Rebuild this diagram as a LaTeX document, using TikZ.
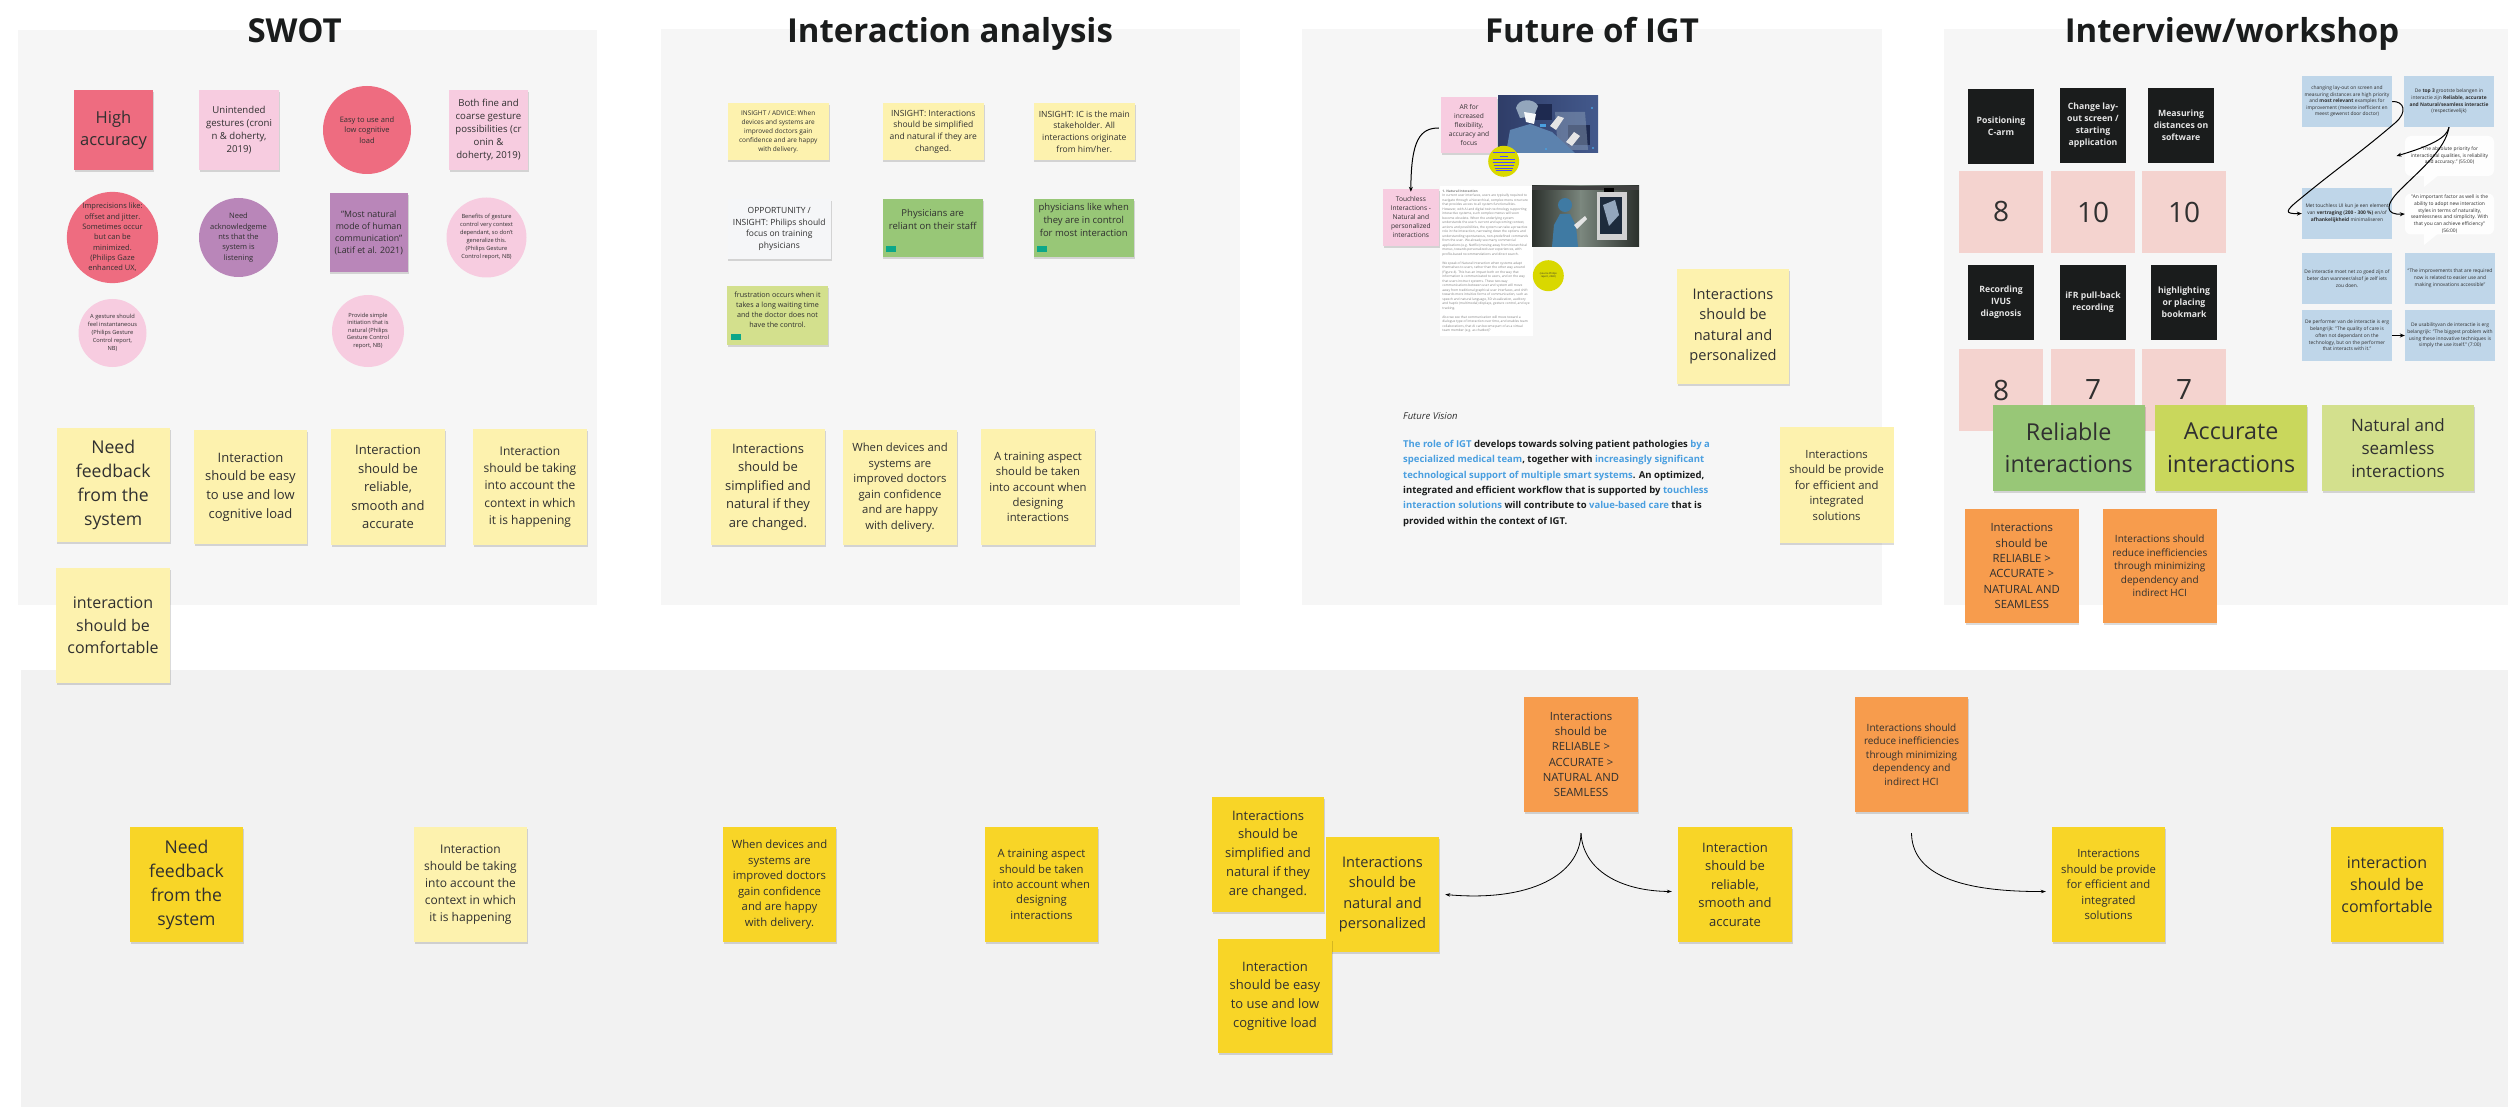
\documentclass[tikz,border=0pt]{standalone}
\usepackage{fontspec}
\setmainfont{Open Sans}
\usetikzlibrary{shadows,arrows.meta}
\definecolor{panelA}{HTML}{F6F6F6}
\definecolor{panelB}{HTML}{F2F2F2}
\definecolor{ylight}{HTML}{FDF2AE}
\definecolor{ystrong}{HTML}{F8D527}
\definecolor{rosered}{HTML}{EE6C80}
\definecolor{rosepale}{HTML}{F7CCE0}
\definecolor{violet}{HTML}{B986B9}
\definecolor{gstrong}{HTML}{98C777}
\definecolor{glime}{HTML}{C9D75C}
\definecolor{gpale}{HTML}{D3E08D}
\definecolor{orangenote}{HTML}{F79C4D}
\definecolor{salmon}{HTML}{F4D3CF}
\definecolor{inkblack}{HTML}{1A1C1C}
\definecolor{bluebox}{HTML}{BFD6E9}
\definecolor{inktext}{HTML}{303030}
\definecolor{linkblue}{HTML}{4A9FE0}
\definecolor{teal}{HTML}{0CA789}
\definecolor{acid}{HTML}{D9D800}
\definecolor{paleslate}{HTML}{F5F6F8}
\definecolor{phA}{HTML}{43598C}
\definecolor{phB}{HTML}{1E2A50}
\definecolor{phC}{HTML}{5C82AE}
\definecolor{phD}{HTML}{93A6BC}
\definecolor{phE}{HTML}{7C887F}
\definecolor{phF}{HTML}{565B55}
\definecolor{phG}{HTML}{3F7AA3}
\definecolor{phH}{HTML}{1D2B3C}
\definecolor{phI}{HTML}{2F3D68}
\definecolor{phJ}{HTML}{2B302C}
\tikzset{
  note/.style={rectangle,inner sep=0pt,align=center,text=inktext,
    drop shadow={shadow xshift=0.8pt,shadow yshift=-2pt,fill=black,opacity=0.14}},
  flat/.style={rectangle,inner sep=0pt,align=center,text=inktext},
  disc/.style={circle,inner sep=0pt,align=center,text=inktext},
  paneltitle/.style={font=\fontsize{33}{38}\selectfont\bfseries,text=inkblack,inner sep=0pt,anchor=base},
  link/.style={draw=black,line width=1pt,-{Stealth[length=5pt,width=4pt]}},
  thinlink/.style={draw=black,line width=0.8pt,-{Stealth[length=5pt,width=3.5pt]}}
}
% name, x0, y0, x1, y1, fill, size, leading, text
\newcommand{\nt}[9]{%
  \pgfmathsetlengthmacro\nw{#4-#2}\pgfmathsetlengthmacro\nh{#5-#3}%
  \node[note,fill=#6,minimum width=\nw,minimum height=\nh,font=\fontsize{#7}{#8}\selectfont]
    (#1) at ({(#2+#4)/2},{(#3+#5)/2}) {#9};}
\newcommand{\fl}[9]{%
  \pgfmathsetlengthmacro\nw{#4-#2}\pgfmathsetlengthmacro\nh{#5-#3}%
  \node[flat,fill=#6,minimum width=\nw,minimum height=\nh,font=\fontsize{#7}{#8}\selectfont]
    (#1) at ({(#2+#4)/2},{(#3+#5)/2}) {#9};}
% name, cx, cy, r, fill, size, leading, text
\newcommand{\el}[8]{%
  \node[disc,fill=#5,minimum size=#4*2pt,font=\fontsize{#6}{#7}\selectfont]
    (#1) at (#2,#3) {#8};}
\newcommand{\bk}[4]{\node[flat,fill=inkblack,text=white!90!black,minimum width=66pt,minimum height=75pt,font=\fontsize{8.7}{12}\selectfont\bfseries] (#1) at (#2,#3) {#4};}
\begin{document}
\begin{tikzpicture}[x=1pt,y=-1pt]
\useasboundingbox (0,0) rectangle (2508,1107);
\fill[white] (0,0) rectangle (2508,1107);
% panels
\fill[panelA] (18,30) rectangle (597,605);
\fill[panelA] (661,29) rectangle (1240,605);
\fill[panelA] (1302,29) rectangle (1882,605);
\fill[panelA] (1944,29) rectangle (2508,605);
\fill[panelB] (21,670) rectangle (2508,1107);
% titles
\node[paneltitle] (t1) at (294.6,43) {SWOT};
\node[paneltitle] (t2) at (950,43) {Interaction analysis};
\node[paneltitle] (t3) at (1592,43) {Future of IGT};
\node[paneltitle] (t4) at (2232,43) {Interview/workshop};
% SWOT
\nt{s1}{74}{90}{153}{170}{rosered}{16.5}{22.5}{High\\accuracy}
\nt{s2}{199}{90}{279}{170}{rosepale}{9.6}{12.8}{Unintended\\gestures (croni\\n \& doherty,\\2019)}
\el{s3}{367}{130}{44}{rosered}{7.5}{10.4}{Easy to use and\\low cognitive\\load}
\nt{s4}{449}{90}{528}{170}{rosepale}{9.6}{13}{Both fine and\\coarse gesture\\possibilities (cr\\onin \&\\doherty, 2019)}
\el{s5}{112.5}{237.5}{43.7}{rosered}{7.5}{10.3}{Imprecisions like:\\offset and jitter.\\Sometimes occur\\but can be\\minimized.\\(Philips Gaze\\enhanced UX,}
\el{s6}{238.5}{237.5}{39.5}{violet}{7.5}{10.3}{Need\\acknowledgeme\\nts that the\\system is\\listening}
\nt{s7}{329.5}{193}{408}{272}{violet}{8.8}{12}{"Most natural\\mode of human\\communication"\\(Latif et al. 2021)}
\el{s8}{486.5}{237.5}{40}{rosepale}{5.7}{8}{Benefits of gesture\\control very context\\dependant, so don't\\generalize this.\\(Philips Gesture\\Control report, NB)}
\el{s9}{112.5}{333}{34}{rosepale}{5.7}{7.9}{A gesture should\\feel instantaneous\\(Philips Gesture\\Control report,\\NB)}
\el{s10}{368}{331}{36}{rosepale}{5.7}{7.5}{Provide simple\\initiation that is\\natural (Philips\\Gesture Control\\report, NB)}
\nt{s11}{56.5}{428}{170}{542}{ylight}{17.6}{24}{Need\\feedback\\from the\\system}
\nt{s12}{194}{430}{307}{544}{ylight}{13}{18.7}{Interaction\\should be easy\\to use and low\\cognitive load}
\nt{s13}{331}{429}{445}{545}{ylight}{13}{18.5}{Interaction\\should be\\reliable,\\smooth and\\accurate}
\nt{s14}{473}{429}{587}{545}{ylight}{12}{17.2}{Interaction\\should be taking\\into account the\\context in which\\it is happening}
\nt{s15}{56}{568}{170}{683}{ylight}{16}{22.3}{interaction\\should be\\comfortable}
% Interaction analysis
\nt{i1}{727.5}{103}{829}{160}{ylight}{6.5}{9}{INSIGHT / ADVICE: When\\devices and systems are\\improved doctors gain\\confidence and are happy\\with delivery.}
\nt{i2}{882.5}{103}{984}{160}{ylight}{8.5}{11.7}{INSIGHT: Interactions\\should be simplified\\and natural if they are\\changed.}
\nt{i3}{1033.5}{103}{1135}{160}{ylight}{8.5}{11.7}{INSIGHT: IC is the main\\stakeholder. All\\interactions originate\\from him/her.}
\nt{i4}{727.5}{199}{831}{259}{paleslate}{8.5}{11.8}{OPPORTUNITY /\\INSIGHT: Philips should\\focus on training\\physicians}
\nt{i5}{882.5}{199}{983}{257}{gstrong}{9.5}{13}{Physicians are\\reliant on their staff\\[5pt]}
\nt{i6}{1033.5}{199}{1134}{257}{gstrong}{9.5}{13}{physicians like when\\they are in control\\for most interaction\\[4pt]}
\nt{i7}{727}{286}{828}{345}{gpale}{7.2}{9.8}{frustration occurs when it\\takes a long waiting time\\and the doctor does not\\have the control.\\[2pt]}
\fill[teal] (886,246) rectangle (895.5,252);
\fill[teal] (1037,246) rectangle (1047,252);
\fill[teal] (731,334) rectangle (740.5,340);
\nt{i8}{711}{429}{825}{545}{ylight}{13}{18.5}{Interactions\\should be\\simplified and\\natural if they\\are changed.}
\nt{i9}{843}{430}{957}{545}{ylight}{11.3}{15.5}{When devices and\\systems are\\improved doctors\\gain confidence\\and are happy\\with delivery.}
\nt{i10}{981}{429}{1095}{545}{ylight}{11.3}{15.4}{A training aspect\\should be taken\\into account when\\designing\\interactions}
% Future of IGT: photo 1
\begin{scope}
\clip (1498,96) rectangle (1598,153);
\shade[left color=phI,right color=phA] (1498,96) rectangle (1598,153);
\fill[phB] (1527,104) rectangle (1552,120);
\fill[phB] (1568,125) rectangle (1590,145);
\fill[phD,opacity=.45] (1555,112) -- (1585,112) -- (1588,150) -- (1558,150) -- cycle;
\fill[phC] (1506,153) -- (1510,130) -- (1530,124) -- (1552,132) -- (1575,153) -- cycle;
\fill[phD] (1516,108) .. controls (1518,98) and (1534,98) .. (1538,106) -- (1534,116) -- (1520,118) -- cycle;
\fill[white!92!phD] (1524,112) -- (1536,114) -- (1534,124) -- (1526,122) -- cycle;
\fill[white!80!gray] (1550,126) -- (1558,116) -- (1564,118) -- (1556,130) -- cycle;
\fill[white!80!gray] (1566,142) -- (1574,132) -- (1580,136) -- (1572,146) -- cycle;
\fill[linkblue] (1540,124) rectangle (1546,127);
\fill[linkblue] (1592,108) circle (1.2pt) (1593,148) circle (1.2pt) (1546,149) circle (1.2pt);
\end{scope}
\nt{f1}{1441}{97}{1497}{153}{rosepale}{6.6}{9}{AR for\\increased\\flexibility,\\accuracy and\\focus}
\node[disc,fill=acid,minimum size=31pt] (f2) at (1503.7,161.3) {};
\foreach \yy/\ww in {152.5/11,156/4,159/11,162.5/11,165/10,168/9,170.5/8}
  \draw[blue!70!white,line width=0.9pt] (1503.7-\ww,\yy) -- (1503.7+\ww,\yy);
\nt{f3}{1383}{189}{1438.7}{245.7}{rosepale}{6.6}{9}{Touchless\\Interactions -\\Natural and\\personalized\\interactions}
\fl{f4}{1440}{186}{1532.7}{336}{white}{3.25}{4.5}{\parbox{88pt}{\raggedright\color{black!50}\textbf{1. Natural Interaction}\\In current user interfaces, users are typically required to navigate through a hierarchical, complex menu structure that provides access to all system functionalities. However, with AI and digital twin technology supporting interactive systems, such complex menus will soon become obsolete. When the underlying system understands the user's current and upcoming context, actions and possibilities, the system can take a proactive role in the interaction, narrowing down the options and understanding spontaneous, non-predefined commands from the user. We already see many commercial applications (e.g. Netflix) moving away from hierarchical menus, towards personalized user experiences, with profile-based recommendations and direct search.\\[4.5pt]We speak of Natural Interaction when systems adapt themselves to users, rather than the other way around (Figure 4). This has an impact both on the way that information is communicated to users, and on the way that users instruct systems. These two-way communications between user and system will move away from traditional graphical user interfaces, and shift towards more intuitive forms of communication, such as speech and natural language, 3D visualization, auditory and haptic (multimodal) displays, gesture control, and eye tracking.\\[4.5pt]Also we see that communication will move toward a dialogue type of interaction over time, and enables team collaborations, that AI can become part of as a virtual team member (e.g. as chatbot)?}}
% photo 2
\begin{scope}
\clip (1532,186) rectangle (1639,247);
\shade[left color=phJ,right color=phE] (1532,186) rectangle (1582,247);
\shade[left color=phE,right color=phJ] (1580,186) rectangle (1639,247);
\fill[black!75] (1532,186) rectangle (1639,190);
\fill[gray!35] (1597,192) rectangle (1627,240);
\fill[phH] (1600,197) rectangle (1622,234);
\fill[phD] (1603,205) -- (1615,200) -- (1619,215) -- (1609,226) -- cycle;
\fill[black] (1604,188) rectangle (1614,192);
\fill[phG] (1552,247) -- (1554,225) -- (1560,214) -- (1570,214) -- (1576,226) -- (1578,247) -- cycle;
\fill[phG] (1565,205) circle (7pt);
\fill[white!80!gray] (1574,225) -- (1585,216) -- (1587,219) -- (1577,229) -- cycle;
\end{scope}
\el{f5}{1548.3}{275.7}{15.5}{acid}{2.5}{3.2}{(source Philips\\report, 2040)}
\nt{f6}{1677}{269}{1789}{384}{ylight}{14.6}{20.3}{Interactions\\should be\\natural and\\personalized}
\node[inner sep=0pt,anchor=west,font=\fontsize{9.5}{12}\selectfont\itshape,text=inktext] (f7) at (1403,416) {Future Vision};
\node[inner sep=0pt,anchor=north west,align=left,text=inkblack,font=\fontsize{9.5}{15.35}\selectfont\bfseries] (f8) at (1403,440) {\textcolor{linkblue}{The role of IGT} develops towards solving patient pathologies \textcolor{linkblue}{by a}\\\textcolor{linkblue}{specialized medical team}, together with \textcolor{linkblue}{increasingly significant}\\\textcolor{linkblue}{technological support of multiple smart systems}. An optimized,\\integrated and efficient workflow that is supported by \textcolor{linkblue}{touchless}\\\textcolor{linkblue}{interaction solutions} will contribute to \textcolor{linkblue}{value-based care} that is\\provided within the context of IGT.};
\nt{f9}{1779.6}{427}{1893.6}{543}{ylight}{11.3}{15.5}{Interactions\\should be provide\\for efficient and\\integrated\\solutions}
\draw[link] (f1.west) ++(-2,3) .. controls (1420,128) and (1411,140) .. ([yshift=-3]f3.north);
% Interview / workshop
\fl{p1}{1959}{171}{2043}{253}{salmon}{28}{34}{8}
\fl{p2}{2051}{171}{2135}{253}{salmon}{28}{34}{10}
\fl{p3}{2142}{171}{2226}{253}{salmon}{28}{34}{10}
\fl{p4}{1959}{349}{2043}{431}{salmon}{28}{34}{8}
\fl{p5}{2051}{349}{2135}{431}{salmon}{28}{34}{7}
\fl{p6}{2142}{349}{2226}{431}{salmon}{28}{34}{7}
\bk{k1}{2001}{126.5}{Positioning\\C-arm}
\bk{k2}{2093}{125.5}{Change lay-\\out screen /\\starting\\application}
\bk{k3}{2181}{125.5}{Measuring\\distances on\\software}
\bk{k4}{2001}{302.5}{Recording\\IVUS\\diagnosis}
\bk{k5}{2093}{302.5}{iFR pull-back\\recording}
\bk{k6}{2184}{302.5}{highlighting\\or placing\\bookmark}
\nt{w1}{1992.7}{405}{2144.7}{490.7}{gstrong}{23.3}{32.7}{Reliable\\interactions}
\nt{w2}{2155.3}{405}{2307}{490.7}{glime}{23.3}{32.7}{Accurate\\interactions}
\nt{w3}{2322}{405}{2474}{490.7}{gpale}{17}{23}{Natural and\\seamless\\interactions}
\nt{w4}{1965}{509}{2078.5}{623}{orangenote}{11.3}{15.3}{Interactions\\should be\\RELIABLE >\\ACCURATE >\\NATURAL AND\\SEAMLESS}
\nt{w5}{2103}{509}{2216.5}{623}{orangenote}{10}{13.5}{Interactions should\\reduce inefficiencies\\through minimizing\\dependency and\\indirect HCI}
% blue boxes
\fl{b1}{2302}{76}{2392}{127}{bluebox}{4.9}{6.6}{changing lay-out on screen and\\measuring distances are high priority\\and \textbf{most relevant} examples for\\improvement (meeste inefficient en\\meest gewenst door doctor)}
\fl{b2}{2404}{76}{2494}{127}{bluebox}{4.9}{6.6}{De \textbf{top 3} grootste belangen in\\interactie zijn \textbf{Reliable, accurate}\\\textbf{and Natural/seamless interactie}\\(respectievelijk)}
\fl{b3}{2302}{188}{2392}{239}{bluebox}{4.9}{7}{Met touchless UI kun je een element\\van \textbf{vertraging (200 - 300 \%)} en/of\\\textbf{afhankelijkheid} minimaliseren}
\fl{b4}{2302}{253}{2392}{304}{bluebox}{4.9}{7}{De interactie moet net zo goed zijn of\\beter dan wanneer/alsof je zelf iets\\zou doen.}
\fl{b5}{2405}{253}{2495}{304}{bluebox}{4.9}{7}{“The improvements that are required\\now is related to easier use and\\making innovations accessible”}
\fl{b6}{2302}{310}{2392}{361}{bluebox}{4.9}{6.7}{De performer van de interactie is erg\\belangrijk: "The quality of care is\\often not dependant on the\\technology, but on the performer\\that interacts with it."}
\fl{b7}{2405}{310}{2495}{361}{bluebox}{4.9}{6.7}{De usabilityvan de interactie is erg\\belangrijk: "The biggest problem with\\using these innovative techniques is\\simply the use itself." (7:00)}
% speech bubbles
\fill[white!92!panelA] (2424,170) -- (2424,187) -- (2440,174) -- cycle;
\node[flat,rounded corners=6pt,fill=white!92!panelA,minimum width=89pt,minimum height=40pt,font=\fontsize{4.9}{6.5}\selectfont] (q1) at (2449.5,156) {"The absolute priority for\\interactional qualities, is reliability\\and accuracy." (55:00)};
\fill[white!92!panelA] (2424,228) -- (2424,245) -- (2440,232) -- cycle;
\node[flat,rounded corners=6pt,fill=white!92!panelA,minimum width=89pt,minimum height=41pt,font=\fontsize{4.9}{6.8}\selectfont] (q2) at (2449.5,214) {"An important factor as well is the\\ability to adopt new interaction\\styles in terms of naturality,\\seamlessness and simplicity. With\\that you can achieve efficiency"\\(56:00)};
\draw[link] (b1.east) .. controls (2404,101) and (2408,112) .. (2395,123) .. controls (2360,153) and (2335,170) .. (2300,199) .. controls (2285,211) and (2284,214) .. (b3.west);
\draw[link] (b2.south) .. controls (2447,138) and (2430,146) .. ([xshift=-53]q1.center);
\draw[link] (b2.south) .. controls (2445,150) and (2420,170) .. (2400,190) .. controls (2384,206) and (2386,215) .. (q2.west);
\draw[link] (b6.east) -- (b7.west);
% bottom
\nt{z1}{130}{827}{243}{942}{ystrong}{17.6}{24}{Need\\feedback\\from the\\system}
\nt{z2}{414}{827}{527}{942}{ylight}{12}{17.2}{Interaction\\should be taking\\into account the\\context in which\\it is happening}
\nt{z3}{723}{827}{836}{942}{ystrong}{11.3}{15.5}{When devices and\\systems are\\improved doctors\\gain confidence\\and are happy\\with delivery.}
\nt{z4}{985}{827}{1098}{942}{ystrong}{11.3}{15.4}{A training aspect\\should be taken\\into account when\\designing\\interactions}
\nt{z5}{1212}{797}{1324}{912}{ystrong}{13}{18.8}{Interactions\\should be\\simplified and\\natural if they\\are changed.}
\nt{z6}{1326}{837}{1439}{952}{ystrong}{14.6}{20.3}{Interactions\\should be\\natural and\\personalized}
\nt{z7}{1218}{939}{1332}{1053}{ystrong}{13}{18.7}{Interaction\\should be easy\\to use and low\\cognitive load}
\nt{z8}{1524}{697}{1638}{812}{orangenote}{11.3}{15.3}{Interactions\\should be\\RELIABLE >\\ACCURATE >\\NATURAL AND\\SEAMLESS}
\nt{z9}{1855}{697}{1968}{812}{orangenote}{10}{13.5}{Interactions should\\reduce inefficiencies\\through minimizing\\dependency and\\indirect HCI}
\nt{z10}{1678}{827}{1792}{942}{ystrong}{13}{18.5}{Interaction\\should be\\reliable,\\smooth and\\accurate}
\nt{z11}{2052}{827}{2165}{942}{ystrong}{11.3}{15.5}{Interactions\\should be provide\\for efficient and\\integrated\\solutions}
\nt{z12}{2331}{827}{2443}{942}{ystrong}{16}{22.3}{interaction\\should be\\comfortable}
\coordinate (z8out) at ([yshift=-21]z8.south);
\coordinate (z9out) at ([yshift=-21]z9.south);
\draw[thinlink] (z8out) .. controls (1580,875) and (1530,902) .. ([xshift=6]z6.east);
\draw[thinlink] (z8out) .. controls (1583,870) and (1620,891) .. ([xshift=-6,yshift=-7]z10.west);
\draw[thinlink] (z9out) .. controls (1912,870) and (1950,892) .. ([xshift=-6,yshift=-7]z11.west);
\end{tikzpicture}
\end{document}
